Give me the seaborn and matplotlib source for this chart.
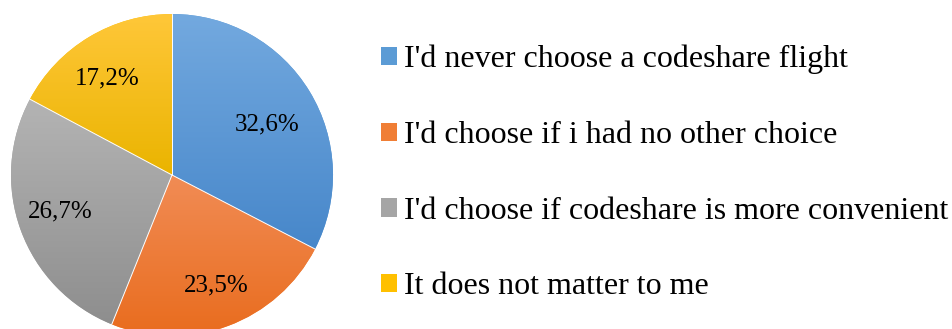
import matplotlib
matplotlib.use('Agg')
import numpy as np
import matplotlib.pyplot as plt
from matplotlib.colors import LinearSegmentedColormap
import seaborn as sns

labels = [
    "I'd never choose a codeshare flight",
    "I'd choose if i had no other choice",
    "I'd choose if codeshare is more convenient",
    "It does not matter to me",
]
shares = [32.6, 23.5, 26.7, 17.2]
colors = ['#5B9BD5', '#F07E35', '#A5A5A5', '#FFC000']
# top / bottom shades for the Excel-like gradient fill
grad_top = ['#73A9DF', '#F18C55', '#B4B4B4', '#FFC739']
grad_bottom = ['#4787CA', '#E96C1E', '#8E8E8E', '#EAB400']
# label placement: distance (fraction of radius) and angle shift in degrees
label_dist = [0.67, 0.74, 0.73, 0.72]
label_shift = [-3.5, 1.5, -2.0, 3.0]

sns.set_style('white')
plt.rcParams['font.family'] = ['Liberation Serif', 'DejaVu Serif']

W, H = 953, 329
cx, cy, r = 172, H - 175, 161
fig = plt.figure(figsize=(W / 100, H / 100), dpi=100)
ax = fig.add_axes([0, 0, 1, 1])

wedges, texts, autotexts = ax.pie(
    shares,
    colors=colors,
    startangle=90,
    counterclock=False,
    center=(cx, cy),
    radius=r,
    autopct=lambda p: f'{p:.1f}%'.replace('.', ','),
    wedgeprops=dict(edgecolor='none'),
    textprops=dict(fontsize=18, color='black', zorder=5),
    frame=True,
)

# gradient fill clipped to each wedge
for w, top, bot in zip(wedges, grad_top, grad_bottom):
    bb = w.get_path().get_extents(w.get_patch_transform())
    cmap = LinearSegmentedColormap.from_list('g', [bot, top])
    grad = np.linspace(0, 1, 256).reshape(-1, 1)
    im = ax.imshow(grad, cmap=cmap, origin='lower', aspect='auto',
                   extent=(bb.x0, bb.x1, bb.y0, bb.y1), zorder=2)
    im.set_clip_path(w)

# thin white separators between slices
for w in wedges:
    ang = np.deg2rad(w.theta1)
    ax.plot([cx, cx + r * np.cos(ang)], [cy, cy + r * np.sin(ang)],
            color='white', lw=0.7, zorder=3)

for w, t, d, s in zip(wedges, autotexts, label_dist, label_shift):
    ang = np.deg2rad((w.theta1 + w.theta2) / 2 + s)
    t.set_position((cx + d * r * np.cos(ang), cy + d * r * np.sin(ang)))

ax.set_xlim(0, W)
ax.set_ylim(0, H)
ax.set_aspect('equal')
ax.axis('off')

fig.legend(
    wedges, labels,
    loc='upper left', bbox_to_anchor=(381 / W, 1 - 45 / H),
    frameon=False, fontsize=23, labelcolor='black',
    handlelength=0.5, handleheight=0.5, handletextpad=0.22,
    labelspacing=1.46, borderpad=0, borderaxespad=0,
)

fig.savefig('out.png', dpi=100)
